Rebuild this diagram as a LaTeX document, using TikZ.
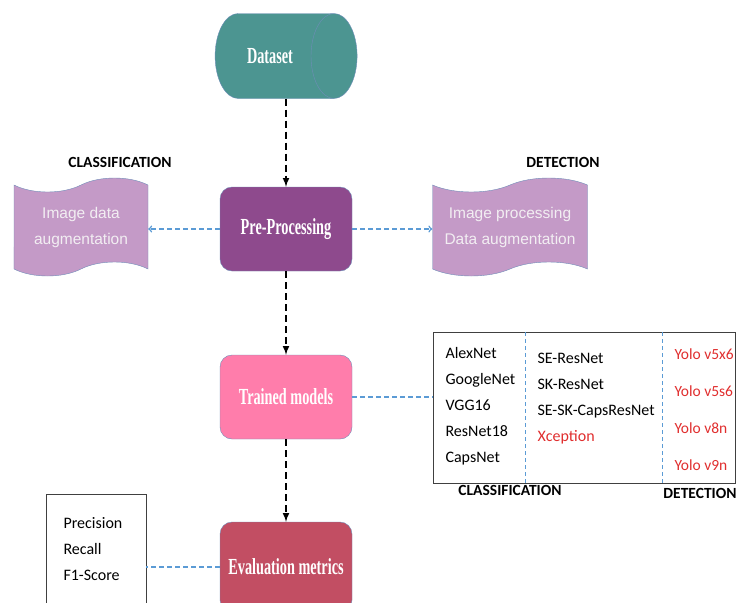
\documentclass[tikz,border=0pt]{standalone}
\usepackage{fontspec}
\setmainfont{Carlito}
\newfontfamily\tapefont{Liberation Sans}
\newfontfamily\headfont[FakeStretch=0.62]{Liberation Serif}
\usetikzlibrary{shapes.geometric,shapes.symbols}
\definecolor{dataC}{HTML}{4C9591}
\definecolor{edgeC}{HTML}{6F8DB8}
\definecolor{preC}{HTML}{8E4A8D}
\definecolor{tapeC}{HTML}{C49AC7}
\definecolor{tapetxt}{HTML}{F2EEF2}
\definecolor{trainC}{HTML}{FF7DAB}
\definecolor{evalC}{HTML}{C24E63}
\definecolor{blueC}{HTML}{5B9BD5}
\definecolor{redC}{HTML}{E02E2E}

\begin{document}
\begin{tikzpicture}[x=1pt, y=1pt, >=latex, font=\fontsize{16}{26}\selectfont,
block/.style={rectangle, rounded corners=12pt, draw=edgeC, minimum width=132pt, minimum height=84pt,
      text=white, font=\headfont\bfseries\fontsize{23}{26}\selectfont},
tapebox/.style={tape, draw=edgeC, fill=tapeC, tape bend height=14pt, minimum height=98pt,
      text=tapetxt, align=center, font=\tapefont\fontsize{15.5}{26}\selectfont},
flow/.style={->, line width=2pt, dash pattern=on 7pt off 4pt},
link/.style={blueC, line width=1.5pt, dash pattern=on 5pt off 3pt},
sep/.style={blueC, line width=1pt, dash pattern=on 4pt off 3pt},
tag/.style={font=\bfseries\fontsize{15.5}{18}\selectfont},]
 \clip (0,0) rectangle (737,-603);
 \node[cylinder, draw=edgeC, fill=dataC, minimum width=85pt, minimum height=142pt, aspect=2.1,
      text=white, font=\headfont\bfseries\fontsize{23}{26}\selectfont] (dataset) at (270,-56) {Dataset};
 \node[block, fill=preC] (preproc) at (286,-229) {Pre-Processing};
 \node[block, fill=trainC, below of=preproc, node distance=168pt] (trained) {Trained models};
 \node[block, fill=evalC, below of=trained, node distance=170pt, minimum height=90pt] (eval) {Evaluation metrics};

 \node[tapebox, minimum width=134pt] (clsaug) at (81,-227) {Image data\\augmentation};
 \node[tapebox, minimum width=155pt] (detaug) at (510,-227) {Image processing\\Data augmentation};
 \node[tag] (clstag) at (120,-162) {CLASSIFICATION};
 \node[tag] (dettag) at (563,-162) {DETECTION};

 \node[draw=black!75, minimum width=302pt, minimum height=151pt] (models) at (584,-407.5) {};
 \node[anchor=west, align=left] (cnn) at (442,-406) {AlexNet\\GoogleNet\\VGG16\\ResNet18\\CapsNet};
 \node[anchor=west, align=left] (resnets) at (534,-399) {SE-ResNet\\SK-ResNet\\SE-SK-CapsResNet\\\textcolor{redC}{Xception}};
 \node[anchor=west, align=left, text=redC, font=\fontsize{15.5}{37}\selectfont] (yolos) at (671,-410) {Yolo v5x6\\Yolo v5s6\\Yolo v8n\\Yolo v9n};
 \node[tag] (clslist) at (510,-490) {CLASSIFICATION};
 \node[tag] (detlist) at (700,-493) {DETECTION};
 \coordinate (sepA) at (525,-332);
 \coordinate (sepB) at (662,-332);

 \node[draw=black!75, minimum width=100pt, minimum height=140pt, anchor=north west] (metrics) at (46,-494) {};
 \node[anchor=west, align=left] (scores) at (60,-549) {Precision\\Recall\\F1-Score};

 \draw[flow] (preproc.north |- dataset.south) -- (preproc.north);
 \draw[flow] (preproc) -- (trained);
 \draw[flow] (trained) -- (eval);
 \draw[link, -to] (preproc.west) -- (preproc.west -| clsaug.east);
 \draw[link, -to] (preproc.east) -- (preproc.east -| detaug.west);
 \draw[link] (trained.east) -- (trained.east -| models.west);
 \draw[link] (eval.west) -- (eval.west -| metrics.east);
 \draw[sep] (sepA) -- (sepA |- models.south);
 \draw[sep] (sepB) -- (sepB |- models.south);
\end{tikzpicture}
\end{document}
